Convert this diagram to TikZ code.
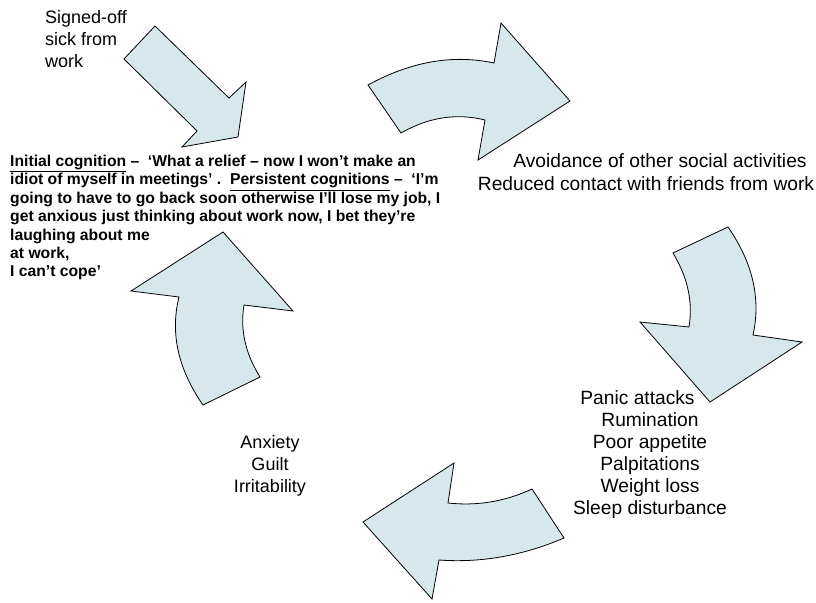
\documentclass[tikz,border=0pt]{standalone}
\usepackage{fontspec}
\setmainfont{Liberation Sans}
\usetikzlibrary{positioning}
\definecolor{arrowblue}{RGB}{215,232,236}

\begin{document}
\begin{tikzpicture}[x=1pt, y=-1pt,
bigarrow/.style={draw=black, fill=arrowblue, line width=0.8pt, line join=miter},
plain/.style={inner sep=0pt, font=\fontsize{18}{22}\selectfont},
plain-big/.style={inner sep=0pt, align=center, font=\fontsize{19.2}{23.5}\selectfont},
cognition/.style={inner sep=0pt, align=left, font=\bfseries\fontsize{15.7}{18.4}\selectfont}
]
\useasboundingbox (0,0) rectangle (816,602);

% straight arrow into the cycle
\path[bigarrow] (155,26) -- (229,98) -- (246,82) -- (238,137) -- (182,147)
  -- (197,131) -- (124,59) -- cycle;

% curved arrows, clockwise from the top
\path[bigarrow] (368,85) .. controls (410,62) and (452,54) .. (494,63)
  -- (501,23) -- (570,101) -- (478,160) -- (485,120)
  .. controls (457,113) and (429,117) .. (401,133) -- cycle;
\path[bigarrow] (673,253) -- (728,227) .. controls (753,263) and (761,299) .. (753,335)
  -- (802,342) -- (710,402) -- (640,322) -- (689,327)
  .. controls (693,302) and (688,278) .. (673,253) -- cycle;
\path[bigarrow] (532,489) -- (564,538) .. controls (522,556) and (480,563) .. (439,560)
  -- (432,599) -- (363,522) -- (454,463) -- (448,503)
  .. controls (476,506) and (504,502) .. (532,489) -- cycle;
\path[bigarrow] (223,232) -- (293,311) -- (244,305) .. controls (240,329) and (245,353) .. (260,377)
  -- (203,405) .. controls (178,369) and (170,333) .. (179,297)
  -- (131,291) -- cycle;

% texts
\node[plain, align=left, anchor=north west] (signed-off) at (45,10)
  {Signed-off\\sick from\\work};
\node[cognition, anchor=north west] (cognitions) at (10,155) {%
\underline{Initial cognition} --\ \ ‘What a relief -- now I won’t make an\\
idiot of myself in meetings’ .\ \ \underline{Persistent cognitions} --\ \ ‘I’m\\
going to have to go back soon otherwise I’ll lose my job, I\\
get anxious just thinking about work now, I bet they’re\\
laughing about me\\
at work,\\
I can’t cope’};
\node[plain-big, anchor=north] (avoidance) at (646,153)
  {\hspace*{28pt}Avoidance of other social activities\\Reduced contact with friends from work};
\node[plain-big, anchor=north, font=\fontsize{19.2}{22}\selectfont] (symptoms) at (650,390)
  {Panic attacks\hspace*{25pt}\\Rumination\hspace*{25pt}\\Poor appetite\hspace*{25pt}\\
   Palpitations\hspace*{25pt}\\Weight loss\hspace*{25pt}\\Sleep disturbance};
\node[plain, align=center, anchor=north] (feelings) at (270,435)
  {Anxiety\\Guilt\\Irritability};
\end{tikzpicture}
\end{document}
